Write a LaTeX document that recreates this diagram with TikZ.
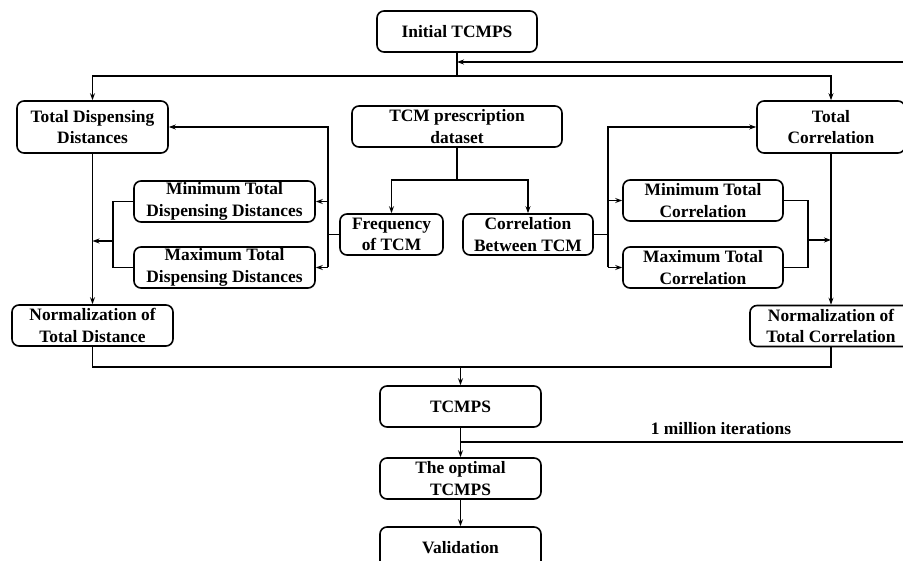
\documentclass[tikz,border=0pt]{standalone}
\usepackage{fontspec}
\setmainfont{Liberation Serif}
\usetikzlibrary{arrows.meta}
\begin{document}
\begin{tikzpicture}[x=1pt,y=-1pt,
  box/.style={draw, line width=1.6pt, rounded corners=7pt, inner sep=0pt, align=center,
    font=\bfseries\fontsize{17.4}{21.5}\selectfont, minimum height=41pt},
  conn/.style={line width=1.5pt},
  arr/.style={conn, -{Stealth[length=7pt,width=5pt]}}]
\useasboundingbox (0,0) rectangle (903,561);
\clip (0,0) rectangle (903,561);
% boxes
\node[box, minimum width=160pt] (init) at (457,31.5) {Initial TCMPS};
\node[box, minimum width=151pt, minimum height=52pt] (tdd) at (92.5,127) {Total Dispensing\\Distances};
\node[box, minimum width=210pt] (data) at (457,126.5) {TCM prescription\\dataset};
\node[box, minimum width=148pt, minimum height=52pt] (tc) at (831,127) {Total\\Correlation};
\node[box, minimum width=103pt] (freq) at (391.5,234.5) {Frequency\\of TCM};
\node[box, minimum width=130pt] (corr) at (528,234.5) {Correlation\\Between TCM};
\node[box, minimum width=181pt] (mintdd) at (224.5,201.5) {Minimum Total\\Dispensing Distances};
\node[box, minimum width=181pt] (maxtdd) at (224.5,267.5) {Maximum Total\\Dispensing Distances};
\node[box, minimum width=160pt] (mintc) at (703,200.5) {Minimum Total\\Correlation};
\node[box, minimum width=160pt] (maxtc) at (703,267.5) {Maximum Total\\Correlation};
\node[box, minimum width=161pt] (normd) at (92.5,325.5) {Normalization of\\Total Distance};
\node[box, minimum width=162pt] (normc) at (831,326) {Normalization of\\Total Correlation};
\node[box, minimum width=161pt] (tcmps) at (460.5,406.5) {TCMPS};
\node[box, minimum width=161pt] (opt) at (460.5,478.5) {The optimal\\TCMPS};
\node[box, minimum width=161pt] (valid) at (460.5,547.5) {Validation};
\node[font=\bfseries\fontsize{17.4}{21.5}\selectfont, inner sep=0pt] (iter) at (721,429) {1 million iterations};
% coordinates
\coordinate (j1) at (457,76);
\coordinate (fbR) at (905,62);
\coordinate (fbL) at (457,62);
\coordinate (j2) at (457,180);
\coordinate (lfv) at (328,234.5);
\coordinate (lftop) at (328,201.5);
\coordinate (lfbot) at (328,267.5);
\coordinate (lbr) at (113,241);
\coordinate (lbrT) at (113,201.5);
\coordinate (lbrB) at (113,267.5);
\coordinate (lmid) at (92.5,241);
\coordinate (rfv) at (608,234.5);
\coordinate (rftop) at (608,200.5);
\coordinate (rfbot) at (608,267.5);
\coordinate (rbr) at (808,240);
\coordinate (rbrT) at (808,200.5);
\coordinate (rbrB) at (808,267.5);
\coordinate (rmid) at (831,240);
\coordinate (j3) at (460.5,367);
\coordinate (jl) at (92.5,367);
\coordinate (it1) at (460.5,442);
\coordinate (it2) at (905,442);
% top
\draw[conn] (init.south) -- (j1);
\draw[arr] (j1) -| (tdd.north);
\draw[arr] (j1) -| (tc.north);
\draw[arr] (fbR) -- (fbL);
% dataset split
\draw[conn] (data.south) -- (j2);
\draw[arr] (j2) -| (freq.north);
\draw[arr] (j2) -| (corr.north);
% left
\draw[conn] (freq.west) -- (lfv);
\draw[arr] (lfbot) |- (tdd.east);
\draw[arr] (lftop) -- (mintdd.east);
\draw[arr] (lfbot) -- (maxtdd.east);
\draw[conn] (mintdd.west) -- (lbrT) -- (lbrB) -- (maxtdd.west);
\draw[arr] (lbr) -- (lmid);
\draw[arr] (tdd.south) -- (normd.north);
% right
\draw[conn] (corr.east) -- (rfv);
\draw[arr] (rfbot) |- (tc.west);
\draw[arr] (rftop) -- (mintc.west);
\draw[arr] (rfbot) -- (maxtc.west);
\draw[conn] (mintc.east) -- (rbrT) -- (rbrB) -- (maxtc.east);
\draw[arr] (rbr) -- (rmid);
\draw[arr] (tc.south) -- (normc.north);
% merge
\draw[conn] (normd.south) -- (jl) -| (normc.south);
\draw[arr] (j3) -- (tcmps.north);
\draw[arr] (tcmps.south) -- (opt.north);
\draw[conn] (it1) -- (it2);
\draw[arr] (opt.south) -- (valid.north);
\end{tikzpicture}
\end{document}
